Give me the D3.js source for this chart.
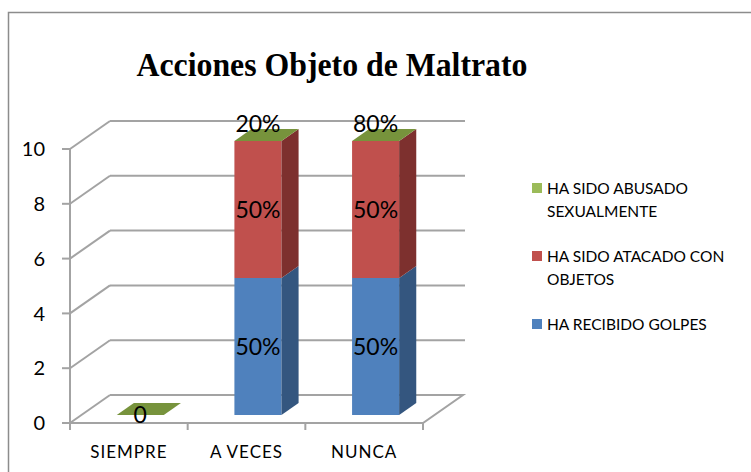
<!DOCTYPE html>
<html>
<head>
<meta charset="utf-8">
<script src="https://cdn.jsdelivr.net/npm/d3@7"></script>
<style>
  html, body { margin: 0; padding: 0; background: #fff; }
  svg { display: block; }
  text { font-family: Lato, "Open Sans", sans-serif; fill: #000; }
</style>
</head>
<body>
<svg id="chart" width="751" height="472"></svg>
<script>
// ---- data ----
const categories = ["SIEMPRE", "A VECES", "NUNCA"];
const seriesNames = ["HA RECIBIDO GOLPES", "HA SIDO ATACADO CON OBJETOS", "HA SIDO ABUSADO SEXUALMENTE"];
const golpes   = [0, 5, 5];
const objetos  = [0, 5, 5];
const abusado  = [0, 0, 0];
const labelsGolpes  = ["", "50%", "50%"];
const labelsObjetos = ["", "50%", "50%"];
const labelsAbusado = ["0", "20%", "80%"];
const yTicks = [0, 2, 4, 6, 8, 10];
const title = "Acciones Objeto de Maltrato";

const seriesValues = [golpes, objetos, abusado];
const seriesLabels = [labelsGolpes, labelsObjetos, labelsAbusado];
const frontColors = ["#4F81BD", "#C0504D", "#9BBB59"];
const sideColors  = ["#34567F", "#7D302E", "#65803A"];
const topColors   = ["#5E8ECB", "#CD5F5C", "#77933C"];
const legendColors = ["#4F81BD", "#C0504D", "#9BBB59"];

const svg = d3.select("#chart");

// frame
svg.append("rect").attr("x", 8.5).attr("y", 12.5).attr("width", 760).attr("height", 480)
  .attr("fill", "none").attr("stroke", "#8C8C8C").attr("stroke-width", 1.5);

// title
svg.append("text").attr("x", 332).attr("y", 75.5).attr("text-anchor", "middle")
  .attr("textLength", 391).attr("lengthAdjust", "spacingAndGlyphs")
  .style("font-family", "'Liberation Serif', 'Times New Roman', serif")
  .style("font-weight", "bold").style("font-size", "33px").text(title);

// scales
const x0 = 70, x1 = 423;
const y = d3.scaleLinear().domain([0, 10]).range([423, 149]);
const x = d3.scaleBand().domain(categories).range([x0, x1]).paddingInner(0.6).paddingOuter(0.3);
const DX = 40, DY = -28; // full depth offset
const off = d => [DX * d, DY * d];

const grid = svg.append("g").attr("stroke", "#A3A3A3").attr("stroke-width", 2).attr("fill", "none");
const backX0 = x0 + DX, backX1 = 465;
// back wall gridlines + left wall diagonals
yTicks.forEach(t => {
  const yy = y(t);
  if (t > 0) {
    grid.append("line").attr("x1", backX0).attr("x2", backX1).attr("y1", yy + DY).attr("y2", yy + DY);
  }
  grid.append("line").attr("x1", x0).attr("y1", yy).attr("x2", x0 + DX).attr("y2", yy + DY);
});
// floor
grid.append("path").attr("d",
  `M${x0},${y(0)} L${x1},${y(0)} L${x1 + DX},${y(0) + DY} L${backX0},${y(0) + DY}`);
// front y axis
grid.append("line").attr("x1", x0).attr("x2", x0).attr("y1", y(10)).attr("y2", y(0) + 7);
// y ticks
yTicks.forEach(t => {
  grid.append("line").attr("x1", x0 - 8).attr("x2", x0).attr("y1", y(t)).attr("y2", y(t));
});
// x ticks at category boundaries
const bounds = [x0].concat(categories.map(c => x(c) + x.bandwidth() / 2 + x.step() / 2));
bounds.forEach(b => {
  grid.append("line").attr("x1", b).attr("x2", b).attr("y1", y(0)).attr("y2", y(0) + 7);
});

// y tick labels
svg.append("g").selectAll("text").data(yTicks).join("text")
  .attr("x", 45).attr("y", d => y(d)).attr("dy", "0.36em").attr("text-anchor", "end")
  .style("font-size", "20px").text(d => d);

// x labels
svg.append("g").selectAll("text").data(categories).join("text")
  .attr("x", d => x(d) + x.bandwidth() / 2).attr("y", 458)
  .attr("text-anchor", "middle").style("font-size", "17px").style("letter-spacing", "1px").text(d => d);

// bars
const d0 = 0.286, d1 = 0.714;
const [fx, fy] = off(d0), [bx, by] = off(d1);
const bars = svg.append("g");
const labelG = svg.append("g");
categories.forEach((c, i) => {
  let cum = 0;
  const left = x(c) + fx, right = x(c) + x.bandwidth() + fx;
  seriesValues.forEach((vals, s) => {
    const v = vals[i];
    const yb = y(cum) + fy, yt = y(cum + v) + fy;
    if (v > 0) {
      bars.append("rect").attr("x", left).attr("y", yt).attr("width", right - left).attr("height", yb - yt)
        .attr("fill", frontColors[s]);
      bars.append("path").attr("d",
        `M${right},${yb} L${right + (bx - fx)},${yb + (by - fy)} L${right + (bx - fx)},${yt + (by - fy)} L${right},${yt}Z`)
        .attr("fill", sideColors[s]);
    }
    cum += v;
    if (s === seriesValues.length - 1) {
      bars.append("path").attr("d",
        `M${left},${yt} L${right},${yt} L${right + (bx - fx)},${yt + (by - fy)} L${left + (bx - fx)},${yt + (by - fy)}Z`)
        .attr("fill", topColors[s]);
    }
    const lab = seriesLabels[s][i];
    if (lab) {
      let ly;
      if (v > 0) ly = (yb + yt) / 2;
      else ly = cum > 0 ? yt - 17 : yt;
      labelG.append("text").attr("x", (left + right) / 2).attr("y", ly).attr("dy", "0.36em")
        .attr("text-anchor", "middle").style("font-size", "23px").text(lab);
    }
  });
});

// legend
const legendItems = [
  { s: 2, lines: ["HA SIDO ABUSADO", "SEXUALMENTE"], y: 188 },
  { s: 1, lines: ["HA SIDO ATACADO CON", "OBJETOS"], y: 256 },
  { s: 0, lines: ["HA RECIBIDO GOLPES"], y: 324 }
];
const leg = svg.append("g");
legendItems.forEach(it => {
  leg.append("rect").attr("x", 532).attr("y", it.y - 5).attr("width", 10).attr("height", 10)
    .attr("fill", legendColors[it.s]);
  it.lines.forEach((ln, k) => {
    leg.append("text").attr("x", 547).attr("y", it.y + k * 23).attr("dy", "0.36em")
      .style("font-size", "15.5px").text(ln);
  });
});
</script>
</body>
</html>
